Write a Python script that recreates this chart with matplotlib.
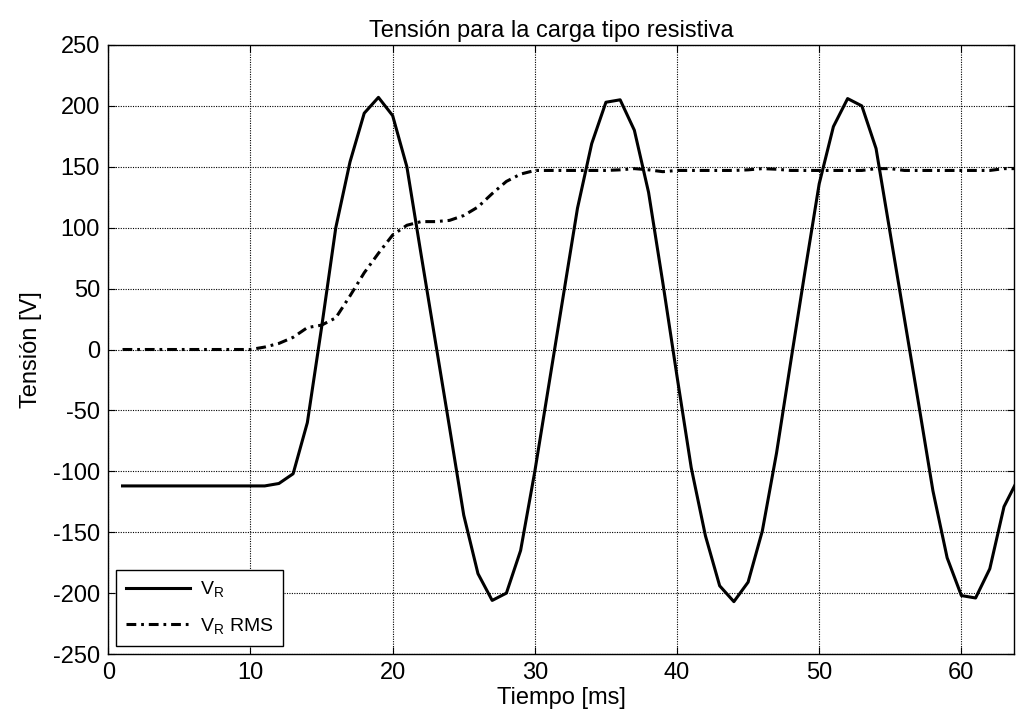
import numpy as np
import matplotlib
matplotlib.use('Agg')
from matplotlib import pyplot as plt

plt.rcParams['font.family'] = ['Liberation Sans', 'DejaVu Sans']
plt.rcParams['mathtext.fontset'] = 'custom'
plt.rcParams['mathtext.rm'] = 'Liberation Sans'
plt.rcParams['axes.unicode_minus'] = False

# tiempo de muestreo [ms]
t = np.arange(1, 65)

# tension en la carga resistiva [V]
v_r = [-112, -112, -112, -112, -112, -112, -112, -112, -112, -112,
       -112, -110, -102, -60, 18, 100, 154, 194, 207, 192,
       150, 78, 7, -64, -136, -184, -206, -200, -165, -100,
       -28, 44, 116, 169, 203, 205, 180, 129, 55, -22,
       -97, -153, -194, -207, -191, -149, -85, -10, 64, 136,
       183, 206, 200, 165, 95, 25, -45, -116, -171, -202,
       -204, -180, -129, -106]

# valor eficaz [V]
v_rms = [0, 0, 0, 0, 0, 0, 0, 0, 0, 0,
         2, 5, 10, 18, 20, 26, 44, 63, 79, 94,
         102, 105, 105, 106, 110, 117, 128, 138, 144, 147,
         147, 147, 147, 147, 147, 147.5, 148.5, 147.5, 146, 147,
         147, 147, 147, 147, 147.5, 148.5, 148, 147, 147, 147,
         147, 147, 147, 148.5, 148.5, 147, 147, 147, 147, 147,
         147, 147, 148.5, 148.5]

fig = plt.figure(figsize=(10.16, 7.21), dpi=100)
ax = fig.add_axes([0.1066, 0.0929, 0.8914, 0.8447])

ax.plot(t, v_r, color='black', linewidth=2.2, label='V$_\\mathregular{R}$')
ax.plot(t, v_rms, color='black', linewidth=2.2,
        linestyle=(0, (3.2, 1.6, 0.9, 1.6)), label='V$_\\mathregular{R}$ RMS')

ax.set_xlim(0, 63.7)
ax.set_ylim(-250, 250)
ax.set_xticks(np.arange(0, 61, 10))
ax.set_yticks(np.arange(-250, 251, 50))
ax.grid(True, color='black', linestyle=(0, (1, 1.2)), linewidth=0.8)
ax.tick_params(direction='in', top=True, right=True, length=5,
               width=0.8, labelsize=17, pad=6)
for s in ax.spines.values():
    s.set_linewidth(1.0)

ax.set_xlabel('Tiempo [ms]', fontsize=17, labelpad=2)
ax.set_ylabel('Tensión [V]', fontsize=17, labelpad=8)
ax.set_title('Tensión para la carga tipo resistiva', fontsize=17, x=0.489, pad=6)

leg = ax.legend(loc='lower left', fontsize=14, fancybox=False,
                edgecolor='black', framealpha=1, handlelength=3.3,
                handletextpad=0.5, borderaxespad=0.4, labelspacing=0.85,
                borderpad=0.5)
leg.get_frame().set_linewidth(1.0)

fig.savefig('out.png', dpi=100)
